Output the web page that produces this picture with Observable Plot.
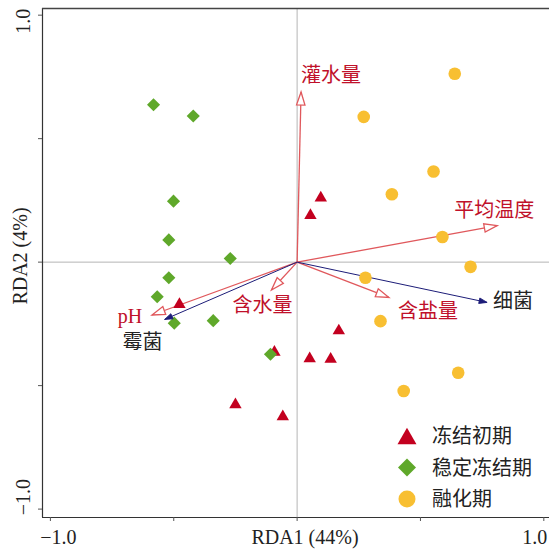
<!DOCTYPE html>
<html>
<head>
<meta charset="utf-8">
<script src="https://cdn.jsdelivr.net/npm/d3@7"></script>
<script src="https://cdn.jsdelivr.net/npm/@observablehq/plot@0.6"></script>
<style>
  html, body { margin: 0; padding: 0; background: #fff; }
  #wrap { position: relative; width: 549px; height: 549px; overflow: hidden; }
  #legend { position: absolute; left: 390px; top: 415px; }
</style>
</head>
<body>
<div id="wrap"></div>
<script>
// ---------- data ----------
const groups = ["冻结初期", "稳定冻结期", "融化期"];

// 冻结初期 (triangles)
const earlyX = [0.096, 0.054, -0.477, -0.092, -0.250, -0.058, 0.169, 0.051, 0.136];
const earlyY = [0.260, 0.189, -0.171, -0.365, -0.577, -0.626, -0.278, -0.391, -0.393];

// 稳定冻结期 (diamonds)
const stableX = [-0.582, -0.421, -0.501, -0.520, -0.271, -0.520, -0.567, -0.498, -0.340, -0.108];
const stableY = [0.637, 0.592, 0.247, 0.090, 0.015, -0.063, -0.140, -0.247, -0.237, -0.373];

// 融化期 (circles)
const thawX = [0.639, 0.270, 0.553, 0.384, 0.589, 0.703, 0.277, 0.338, 0.653, 0.432];
const thawY = [0.763, 0.588, 0.367, 0.275, 0.102, -0.019, -0.063, -0.239, -0.448, -0.522];

// environmental factors (red) and microbes (blue)
const envNames = ["灌水量", "平均温度", "pH", "含水量", "含盐量"];
const envX = [0.016, 0.811, -0.588, -0.104, 0.372];
const envY = [0.689, 0.148, -0.214, -0.113, -0.143];

const bioNames = ["霉菌", "细菌"];
const bioX = [-0.537, 0.770];
const bioY = [-0.232, -0.163];

const xTicks = [-1, -0.5, 0, 0.5, 1];
const yTicks = [-1, -0.5, 0, 0.5, 1];
const xLabelTicks = [-1, 1];
const yLabelTicks = [-1, 1];
const xTitle = "RDA1 (44%)";
const yTitle = "RDA2 (4%)";

// ---------- layout / style ----------
const X_DOMAIN = [-1.032, 1.023];
const Y_DOMAIN = [-1.034, 1.027];
const SERIF = "'Liberation Serif', 'Times New Roman', 'Noto Sans CJK SC', serif";
const RED_TXT = "#c0102a";
const RED_LINE = "#e0585c";
const BLUE = "#1c1c78";
const C_TRI = "#c3001f";
const C_DIA = "#5fa82a";
const C_CIR = "#f8bf32";

const labelLayout = {
  "灌水量":   {dx: 0,   dy: -16, anchor: "start", fill: RED_TXT},
  "平均温度": {dx: -3,  dy: -15, anchor: "middle", fill: RED_TXT},
  "pH":       {dx: -22, dy: 2,   anchor: "middle", fill: RED_TXT},
  "含水量":   {dx: -9,  dy: 16,  anchor: "middle", fill: RED_TXT},
  "含盐量":   {dx: 39,  dy: 14,  anchor: "middle", fill: RED_TXT},
  "霉菌":     {dx: -22, dy: 23,  anchor: "middle", fill: "#222"},
  "细菌":     {dx: 26,  dy: -1,  anchor: "middle", fill: "#222"}
};

const zip = (xs, ys, extra) => xs.map((x, i) => ({x, y: ys[i], ...(extra ? extra(i) : {})}));
const early = zip(earlyX, earlyY);
const stable = zip(stableX, stableY);
const thaw = zip(thawX, thawY);
const env = zip(envX, envY, i => ({name: envNames[i]}));
const bio = zip(bioX, bioY, i => ({name: bioNames[i]}));
const angle = d => Math.atan2(d.x, d.y) * 180 / Math.PI;

// custom arrowhead symbols: tip at origin, pointing up
const headOpen = {draw(ctx) { ctx.moveTo(0, 0); ctx.lineTo(-4.2, 13); ctx.lineTo(4.2, 13); ctx.closePath(); }};
const headFill = {draw(ctx) { ctx.moveTo(0, 0); ctx.lineTo(-2.8, 8); ctx.lineTo(2.8, 8); ctx.closePath(); }};

const fmt = d3.format(".1f");

const labelMarks = [...env, ...bio].map(d => {
  const L = labelLayout[d.name];
  return Plot.text([d], {x: "x", y: "y", text: "name", dx: L.dx, dy: L.dy, textAnchor: L.anchor,
    fill: L.fill, fontSize: 20, fontFamily: SERIF});
});

const axisText = {fontSize: 20, fill: "#222", textAnchor: "middle", lineAnchor: "middle"};

const chart = Plot.plot({
  width: 549, height: 549,
  marginLeft: 42, marginRight: 0, marginTop: 8, marginBottom: 32,
  x: {domain: X_DOMAIN},
  y: {domain: Y_DOMAIN},
  style: {fontFamily: SERIF, background: "#fff", overflow: "visible"},
  marks: [
    Plot.ruleX([0], {stroke: "#b5b5b5", strokeWidth: 1}),
    Plot.ruleY([0], {stroke: "#b5b5b5", strokeWidth: 1}),
    Plot.ruleX([X_DOMAIN[0]], {stroke: "#333", strokeWidth: 1.2}),
    Plot.ruleY([Y_DOMAIN[0]], {stroke: "#333", strokeWidth: 1.2}),
    Plot.ruleY([Y_DOMAIN[1]], {stroke: "#444", strokeWidth: 1.5}),
    Plot.axisX({ticks: xTicks, tickSize: 4, tickFormat: () => "", label: null, stroke: "#555"}),
    Plot.axisY({ticks: yTicks, tickSize: 4, tickFormat: () => "", label: null, stroke: "#555"}),
    Plot.text(xLabelTicks.filter(d => d < 0), {x: d => d, text: fmt, frameAnchor: "bottom", dy: 20, dx: 8, ...axisText}),
    Plot.text(xLabelTicks.filter(d => d > 0), {x: d => d, text: fmt, frameAnchor: "bottom", dy: 20, dx: -9, ...axisText}),
    Plot.text(yLabelTicks.filter(d => d > 0), {y: d => d, text: fmt, frameAnchor: "left", dx: -19, dy: 6, rotate: -90, ...axisText}),
    Plot.text(yLabelTicks.filter(d => d < 0), {y: d => d, text: fmt, frameAnchor: "left", dx: -19, dy: -12, rotate: -90, ...axisText}),
    Plot.text([xTitle], {frameAnchor: "bottom", text: d => d, dx: 9, dy: 20, ...axisText}),
    Plot.text([yTitle], {frameAnchor: "left", text: d => d, dx: -22, dy: -7, rotate: -90, ...axisText}),
    // arrow shafts
    Plot.link(env, {x1: 0, y1: 0, x2: "x", y2: "y", stroke: RED_LINE, strokeWidth: 1.3}),
    Plot.link(bio, {x1: 0, y1: 0, x2: "x", y2: "y", stroke: BLUE, strokeWidth: 1}),
    // samples
    Plot.dot(early, {x: "x", y: "y", symbol: "triangle", r: 4.6, fill: C_TRI}),
    Plot.dot(stable, {x: "x", y: "y", symbol: "diamond2", r: 5.9, fill: C_DIA}),
    Plot.dot(thaw, {x: "x", y: "y", symbol: "circle", r: 6.3, fill: C_CIR}),
    // arrow heads
    Plot.dot(env, {x: "x", y: "y", symbol: headOpen, rotate: angle, fill: "#fff", stroke: RED_LINE, strokeWidth: 1.3}),
    Plot.dot(bio, {x: "x", y: "y", symbol: headFill, rotate: angle, fill: BLUE, stroke: BLUE, strokeWidth: 0.8}),
    ...labelMarks
  ]
});

const wrap = document.getElementById("wrap");
wrap.appendChild(chart);

// ---------- legend ----------
const legendColors = [C_TRI, C_DIA, C_CIR];
const legendSymbols = [
  {type: d3.symbolTriangle, size: 156, dy: 2.7},
  {type: d3.symbolDiamond2, size: 206, dy: 0},
  {type: d3.symbolCircle, size: 227, dy: 0}
];
const lg = d3.create("svg").attr("id", "legend").attr("width", 159).attr("height", 105);
groups.forEach((g, i) => {
  const cy = 21 + i * 31.5;
  const s = legendSymbols[i];
  lg.append("path")
    .attr("d", d3.symbol(s.type, s.size)())
    .attr("transform", `translate(17,${cy + s.dy})`)
    .attr("fill", legendColors[i]);
  lg.append("text")
    .attr("x", 42).attr("y", cy).attr("dy", "0.35em")
    .attr("font-family", SERIF).attr("font-size", 20).attr("fill", "#222")
    .text(g);
});
wrap.appendChild(lg.node());
</script>
</body>
</html>
